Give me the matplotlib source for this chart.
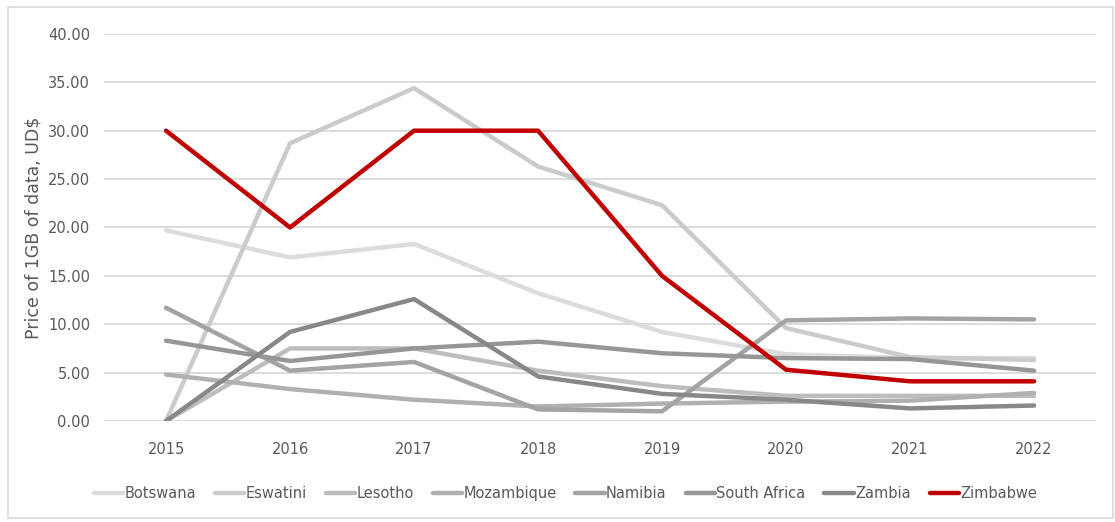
import numpy as np
import matplotlib.pyplot as plt
from matplotlib.patches import Rectangle

plt.rcParams['font.family'] = ['Liberation Sans Narrow', 'DejaVu Sans']

years = [2015, 2016, 2017, 2018, 2019, 2020, 2021, 2022]

botswana = [19.7, 16.9, 18.3, 13.2, 9.2, 6.9, 6.5, 6.5]
eswatini = [0.0, 28.7, 34.4, 26.3, 22.3, 9.6, 6.6, 6.3]
lesotho = [0.0, 7.5, 7.5, 5.2, 3.6, 2.6, 2.6, 2.6]
mozambique = [4.8, 3.3, 2.2, 1.5, 1.8, 2.0, 2.1, 2.9]
namibia = [11.7, 5.2, 6.1, 1.2, 1.0, 10.4, 10.6, 10.5]
south_africa = [8.3, 6.2, 7.5, 8.2, 7.0, 6.5, 6.4, 5.2]
zambia = [0.0, 9.2, 12.6, 4.6, 2.8, 2.2, 1.3, 1.6]
zimbabwe = [30.0, 20.0, 30.0, 30.0, 15.0, 5.3, 4.1, 4.1]

names = ["Botswana", "Eswatini", "Lesotho", "Mozambique", "Namibia",
         "South Africa", "Zambia", "Zimbabwe"]
series = [botswana, eswatini, lesotho, mozambique, namibia,
          south_africa, zambia, zimbabwe]
colors = ["#dcdcdc", "#cbcbcb", "#bdbdbd", "#b0b0b0", "#a3a3a3",
          "#969696", "#888888", "#c00000"]

fig = plt.figure(figsize=(11.15, 5.22), dpi=100)
ax = fig.add_axes([0.0933, 0.1935, 0.8897, 0.7415])

x = np.arange(len(years))
for vals, name, c in zip(series, names, colors):
    ax.plot(x, vals, color=c, lw=3.2, label=name, solid_capstyle='round')

ax.set_xlim(-0.5, len(years) - 0.5)
ax.set_ylim(0, 40)
ax.set_yticks(np.arange(0, 41, 5))
ax.set_yticklabels([f"{v:.2f}" for v in np.arange(0, 41, 5)])
ax.set_xticks(x)
ax.set_xticklabels([str(y) for y in years])
ax.yaxis.grid(True, color="#d9d9d9", lw=1.3)
ax.set_axisbelow(True)
for s in ax.spines.values():
    s.set_visible(False)
ax.tick_params(length=0, colors="#595959", labelsize=10.5)
ax.tick_params(axis='x', pad=15)
ax.tick_params(axis='y', pad=10)
ax.set_ylabel("Price of 1GB of data, UD$", color="#595959", fontsize=12.5,
              family=['DejaVu Sans'], labelpad=4)

leg = fig.legend(loc='center', bbox_to_anchor=(0.507, 0.055), ncol=8,
                 frameon=False, fontsize=10.5, handlelength=2.0,
                 handletextpad=0.1, columnspacing=1.3)
for t in leg.get_texts():
    t.set_color("#595959")

fig.patches.append(Rectangle((0.007, 0.008), 0.991, 0.979, transform=fig.transFigure,
                             fill=False, edgecolor="#d9d9d9", lw=1.2))

fig.savefig("out.png", dpi=100)
